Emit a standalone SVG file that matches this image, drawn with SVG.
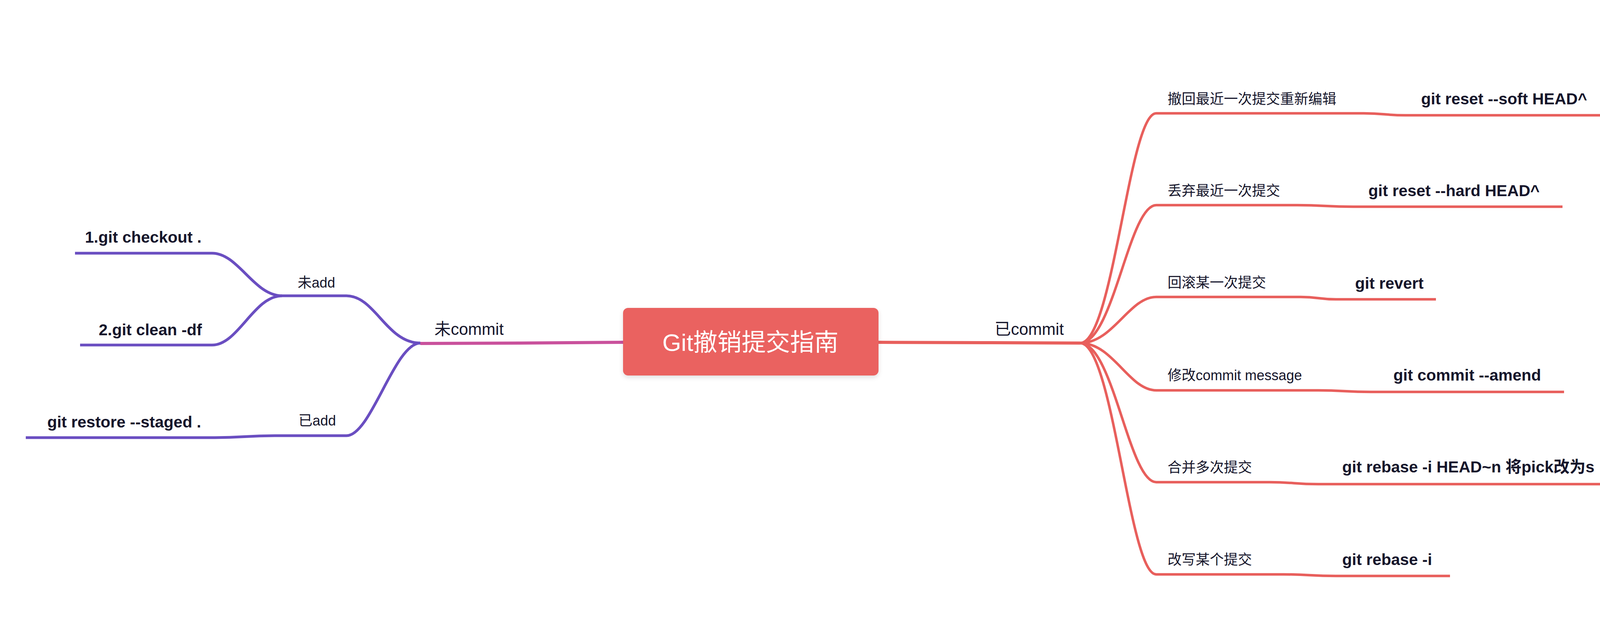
<svg xmlns="http://www.w3.org/2000/svg" width="4246" height="1620" viewBox="0 0 4246 1620">
<style>
.lbl{font-family:"Liberation Sans","Noto Sans CJK SC",sans-serif;fill:#15152b}
.s{font-size:36px}
.m{font-size:42px}
.cmd{font-size:41px;font-weight:bold}
.title{font-family:"Liberation Sans","Noto Sans CJK SC",sans-serif;font-size:62px;fill:#ffffff}
.red{fill:none;stroke:#e85f5c;stroke-width:6.5}
.pur{fill:none;stroke:#6a4ec1;stroke-width:7}
.mag{fill:none;stroke:#c9519c;stroke-width:8}
.redm{fill:none;stroke:#e85f5c;stroke-width:8}
</style>
<defs>
<filter id="sh" x="-10%" y="-20%" width="120%" height="150%">
<feDropShadow dx="0" dy="5" stdDeviation="6" flood-color="#000" flood-opacity="0.12"/>
</filter>
</defs>
<rect width="4246" height="1620" fill="#ffffff"/>

<g id="connectors">
<path class="mag" d="M1595 876 L1330 878"/>
<path class="pur" d="M1076 878 C990 878 960 757 887 757"/>
<path class="pur" d="M1076 878 C1010 878 950 1115 887 1115"/>
<path class="pur" d="M722 757 C650 757 610 648 543 648"/>
<path class="pur" d="M722 757 C650 757 610 883 543 883"/>
<path class="pur" d="M703 1115 C626 1115 626 1120 550 1120"/>
<path class="redm" d="M2248 876 L2520 877"/>
<path class="red" d="M2765 878 C2850 878 2890 290 2960 290"/>
<path class="red" d="M2765 878 C2850 878 2890 525 2960 525"/>
<path class="red" d="M2765 878 C2850 878 2890 760 2960 760"/>
<path class="red" d="M2765 878 C2850 878 2890 999 2960 999"/>
<path class="red" d="M2765 878 C2850 878 2890 1234 2960 1234"/>
<path class="red" d="M2765 878 C2850 878 2890 1470 2960 1470"/>
<path class="red" d="M3491 290 C3545 290 3545 295 3598 295"/>
<path class="red" d="M3321 525 C3392 525 3392 529 3464 529"/>
<path class="red" d="M3330 760 C3375 760 3375 766 3420 766"/>
<path class="red" d="M3375 999 C3442 999 3442 1003 3509 1003"/>
<path class="red" d="M3250 1234 C3312 1234 3312 1239 3375 1239"/>
<path class="red" d="M3286 1470 C3353 1470 3353 1474 3420 1474"/>
</g>

<g id="root">
<rect x="1595" y="788" width="654" height="173" rx="13" fill="#ea6261" filter="url(#sh)"/>
<text class="title" x="1921" y="898" text-anchor="middle">Git撤销提交指南</text>
</g>

<g id="n-uncommit">
<path class="mag" d="M1076 879 L1330 878"/>
<text class="lbl m" x="1112" y="857">未commit</text>
</g>
<g id="n-unadd">
<path class="pur" d="M722 757 L887 757"/>
<text class="lbl s" x="762" y="736">未add</text>
</g>
<g id="n-checkout">
<path class="pur" d="M192 648 L543 648"/>
<text class="lbl cmd" x="516" y="621" text-anchor="end">1.git checkout .</text>
</g>
<g id="n-clean">
<path class="pur" d="M205 883 L543 883"/>
<text class="lbl cmd" x="517" y="858" text-anchor="end">2.git clean -df</text>
</g>
<g id="n-added">
<path class="pur" d="M703 1115 L887 1115"/>
<text class="lbl s" x="764" y="1089">已add</text>
</g>
<g id="n-restore">
<path class="pur" d="M66 1120 L550 1120"/>
<text class="lbl cmd" x="515" y="1094" text-anchor="end">git restore --staged .</text>
</g>

<g id="n-committed">
<path class="redm" d="M2520 877 L2765 878"/>
<text class="lbl m" x="2546" y="857">已commit</text>
</g>

<g id="n-b1">
<path class="red" d="M2960 290 L3491 290"/>
<text class="lbl s" x="2989" y="266">撤回最近一次提交重新编辑</text>
</g>
<g id="n-c1">
<path class="red" d="M3598 295 L4122 295"/>
<text class="lbl cmd" x="3638" y="267">git reset --soft HEAD^</text>
</g>
<g id="n-b2">
<path class="red" d="M2960 525 L3321 525"/>
<text class="lbl s" x="2989" y="501">丢弃最近一次提交</text>
</g>
<g id="n-c2">
<path class="red" d="M3464 529 L4000 529"/>
<text class="lbl cmd" x="3503" y="502">git reset --hard HEAD^</text>
</g>
<g id="n-b3">
<path class="red" d="M2960 760 L3330 760"/>
<text class="lbl s" x="2989" y="736">回滚某一次提交</text>
</g>
<g id="n-c3">
<path class="red" d="M3420 766 L3676 766"/>
<text class="lbl cmd" x="3469" y="739">git revert</text>
</g>
<g id="n-b4">
<path class="red" d="M2960 999 L3375 999"/>
<text class="lbl s" x="2989" y="973">修改commit message</text>
</g>
<g id="n-c4">
<path class="red" d="M3509 1003 L4004 1003"/>
<text class="lbl cmd" x="3567" y="974">git commit --amend</text>
</g>
<g id="n-b5">
<path class="red" d="M2960 1234 L3250 1234"/>
<text class="lbl s" x="2989" y="1209">合并多次提交</text>
</g>
<g id="n-c5">
<path class="red" d="M3375 1239 L4122 1239"/>
<text class="lbl cmd" x="3436" y="1209">git rebase -i HEAD~n 将pick改为s</text>
</g>
<g id="n-b6">
<path class="red" d="M2960 1470 L3286 1470"/>
<text class="lbl s" x="2989" y="1445">改写某个提交</text>
</g>
<g id="n-c6">
<path class="red" d="M3420 1474 L3712 1474"/>
<text class="lbl cmd" x="3436" y="1446">git rebase -i</text>
</g>
</svg>
